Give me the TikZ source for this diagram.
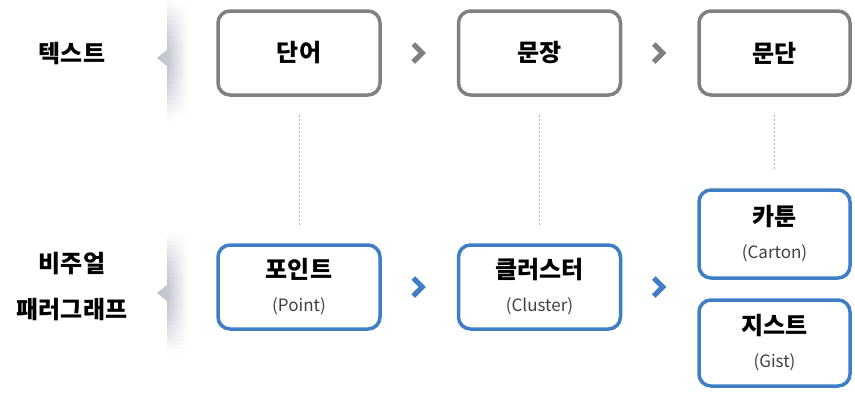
\documentclass[tikz,border=0pt]{standalone}
\usepackage{fontspec}
\setmainfont{Noto Sans CJK KR}
\usetikzlibrary{positioning,calc}

\definecolor{boxgray}{RGB}{128,128,128}
\definecolor{boxblue}{RGB}{62,126,196}
\definecolor{subgray}{RGB}{64,64,64}
\definecolor{shade}{RGB}{175,180,192}

\begin{document}
\begin{tikzpicture}[x=1pt, y=-1pt,
                    text box/.style={rectangle, rounded corners=12pt, line width=3.5pt,
                      minimum width=162pt, minimum height=84pt, align=center,
                      font=\fontsize{24}{28}\selectfont\bfseries},
                    gray box/.style={text box, draw=boxgray},
                    blue box/.style={text box, draw=boxblue},
                    side label/.style={align=center, font=\fontsize{24}{46}\selectfont\bfseries},
                    chev/.style={line width=5pt, line cap=butt, line join=miter},
                    guide/.style={draw=gray!60, line width=0.8pt, dash pattern=on 2pt off 2pt,
                      shorten <=18pt, shorten >=18pt}]

\useasboundingbox (0,0) rectangle (855,392);

% side brackets
\foreach \ya/\yp in {0/58, 233/293} {
  \foreach \i in {0,...,29} {
    \pgfmathsetmacro{\p}{75*sin(180*(\i+0.5)/30)}
    \path[left color=shade!\p, right color=white]
      (167,\ya+4*\i) rectangle (188,\ya+4*\i+4.3);
  }
  \path[left color=shade!80, right color=shade!70] (168,\yp-9) -- (157,\yp) -- (168,\yp+9) -- cycle;
}

\node[side label] (t) at (72,54) {텍스트};
\node[side label] (v) at (72,287) {비주얼\\패러그래프};

% text row
\node[gray box] (1) at (299,53) {단어};
\node[gray box] (2) at (539.5,53) {문장};
\node[gray box] (3) at (774.5,53) [minimum width=151pt] {문단};

% visual row
\newcommand{\sub}[1]{\\[5pt]{\mdseries\fontsize{17}{19}\selectfont\color{subgray}#1}}
\node[blue box] (4) at (299,287) {포인트\sub{(Point)}};
\node[blue box] (5) at (539.5,287) {클러스터\sub{(Cluster)}};
\node[blue box] (6) at (774.5,234) [minimum width=151pt, minimum height=88pt] {카툰\sub{(Carton)}};
\node[blue box] (7) at (774.5,343) [minimum width=151pt, minimum height=86pt] {지스트\sub{(Gist)}};

% links
\draw[guide] (1) -- (4);
\draw[guide] (2) -- (5);
\draw[guide] (3) -- (6);

\draw[chev, boxgray] ($(1.east)!.5!(2.west)$) ++(-6,-9) -- ++(9,9) -- ++(-9,9);
\draw[chev, boxgray] ($(2.east)!.5!(3.west)$) ++(-6,-9) -- ++(9,9) -- ++(-9,9);
\draw[chev, boxblue] ($(4.east)!.5!(5.west)$) ++(-6,-9) -- ++(9,9) -- ++(-9,9);
\draw[chev, boxblue] ($(5.east)!.5!(5.east -| 6.west)$) ++(-6,-9) -- ++(9,9) -- ++(-9,9);

\end{tikzpicture}
\end{document}
